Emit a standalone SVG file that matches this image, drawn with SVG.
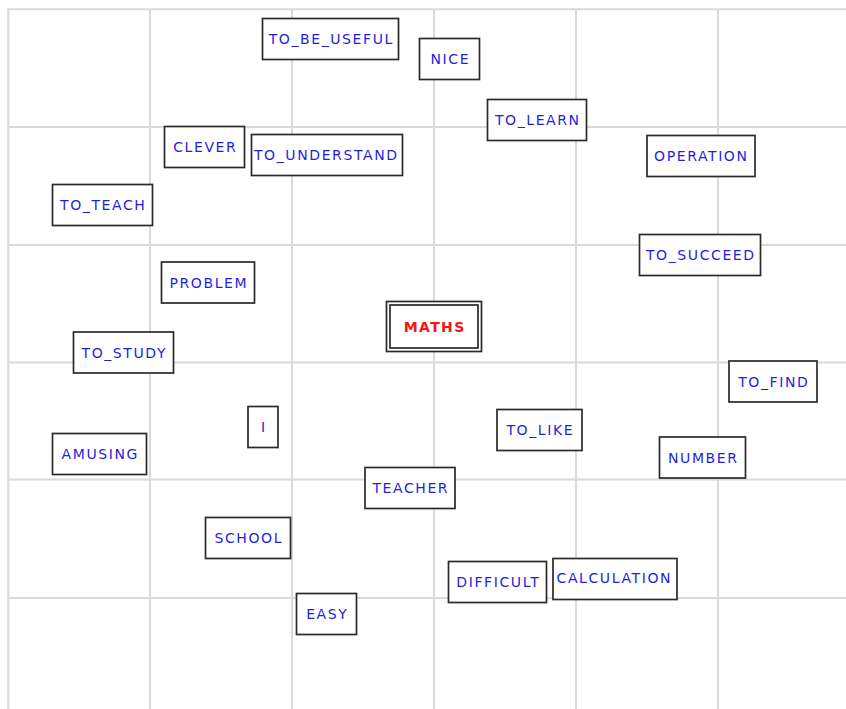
<svg xmlns="http://www.w3.org/2000/svg" width="846" height="709" viewBox="0 0 846 709">
<style>
.grid line{stroke:#dadada;stroke-width:2}
.box{fill:#ffffff;stroke:#2a2a2a;stroke-width:1.7}
.lbl{font-family:"DejaVu Sans",Verdana,sans-serif;font-size:14px;fill:#1f1fe0;text-anchor:middle;letter-spacing:1.6px}
.main{font-family:"DejaVu Sans",Verdana,sans-serif;font-size:14px;font-weight:bold;fill:#ff1010;text-anchor:middle;letter-spacing:1.4px}
</style>
<rect width="846" height="709" fill="#ffffff"/>
<g class="grid">
<line x1="8.3" y1="9.3" x2="8.3" y2="709"/>
<line x1="150" y1="9.3" x2="150" y2="709"/>
<line x1="292" y1="9.3" x2="292" y2="709"/>
<line x1="434" y1="9.3" x2="434" y2="709"/>
<line x1="576" y1="9.3" x2="576" y2="709"/>
<line x1="718" y1="9.3" x2="718" y2="709"/>
<line x1="7.3" y1="9.3" x2="846" y2="9.3"/>
<line x1="7.3" y1="127" x2="846" y2="127"/>
<line x1="7.3" y1="245" x2="846" y2="245"/>
<line x1="7.3" y1="362.5" x2="846" y2="362.5"/>
<line x1="7.3" y1="479.5" x2="846" y2="479.5"/>
<line x1="7.3" y1="598" x2="846" y2="598"/>
</g>
<g id="connectors"></g>
<g id="node-to_be_useful"><rect class="box" x="262.5" y="18.5" width="136" height="41"/><text class="lbl" x="331.3" y="44">TO_BE_USEFUL</text></g>
<g id="node-nice"><rect class="box" x="419.5" y="38.5" width="60" height="41"/><text class="lbl" x="450.3" y="64">NICE</text></g>
<g id="node-to_learn"><rect class="box" x="487.5" y="99.5" width="99" height="41"/><text class="lbl" x="537.8" y="125">TO_LEARN</text></g>
<g id="node-clever"><rect class="box" x="164.5" y="126.5" width="80" height="41"/><text class="lbl" x="205.3" y="152">CLEVER</text></g>
<g id="node-to_understand"><rect class="box" x="251.5" y="134.5" width="151" height="41"/><text class="lbl" x="326.3" y="160">TO_UNDERSTAND</text></g>
<g id="node-operation"><rect class="box" x="647" y="135.5" width="108" height="41"/><text class="lbl" x="701.3" y="161">OPERATION</text></g>
<g id="node-to_teach"><rect class="box" x="52.5" y="184.5" width="100" height="41"/><text class="lbl" x="103.3" y="210">TO_TEACH</text></g>
<g id="node-to_succeed"><rect class="box" x="639.5" y="234.5" width="121" height="41"/><text class="lbl" x="700.8" y="260">TO_SUCCEED</text></g>
<g id="node-problem"><rect class="box" x="161.5" y="262" width="93" height="41"/><text class="lbl" x="208.8" y="287.5">PROBLEM</text></g>
<g id="node-maths"><rect class="box" x="386.5" y="301.5" width="95" height="50"/><rect class="box" x="390" y="305" width="88" height="43"/><text class="main" x="434.7" y="332">MATHS</text></g>
<g id="node-to_study"><rect class="box" x="73.5" y="332" width="100" height="41"/><text class="lbl" x="124.3" y="357.5">TO_STUDY</text></g>
<g id="node-to_find"><rect class="box" x="729" y="361" width="88" height="41"/><text class="lbl" x="773.8" y="386.5">TO_FIND</text></g>
<g id="node-i"><rect class="box" x="248" y="406.5" width="30" height="41"/><text class="lbl" x="263.8" y="432">I</text></g>
<g id="node-to_like"><rect class="box" x="497" y="409.5" width="85" height="41"/><text class="lbl" x="540.3" y="435">TO_LIKE</text></g>
<g id="node-amusing"><rect class="box" x="52.5" y="433.5" width="94" height="41"/><text class="lbl" x="100.3" y="459">AMUSING</text></g>
<g id="node-number"><rect class="box" x="659.5" y="437" width="86" height="41"/><text class="lbl" x="703.3" y="462.5">NUMBER</text></g>
<g id="node-teacher"><rect class="box" x="365" y="467.5" width="90" height="41"/><text class="lbl" x="410.8" y="493">TEACHER</text></g>
<g id="node-school"><rect class="box" x="205.5" y="517.5" width="85" height="41"/><text class="lbl" x="248.8" y="543">SCHOOL</text></g>
<g id="node-calculation"><rect class="box" x="553" y="558.5" width="124" height="41"/><text class="lbl" x="614.3" y="583.3">CALCULATION</text></g>
<g id="node-difficult"><rect class="box" x="448.5" y="561.5" width="98" height="41"/><text class="lbl" x="498.3" y="587">DIFFICULT</text></g>
<g id="node-easy"><rect class="box" x="296.5" y="593.5" width="60" height="41"/><text class="lbl" x="327.3" y="619">EASY</text></g>
</svg>
